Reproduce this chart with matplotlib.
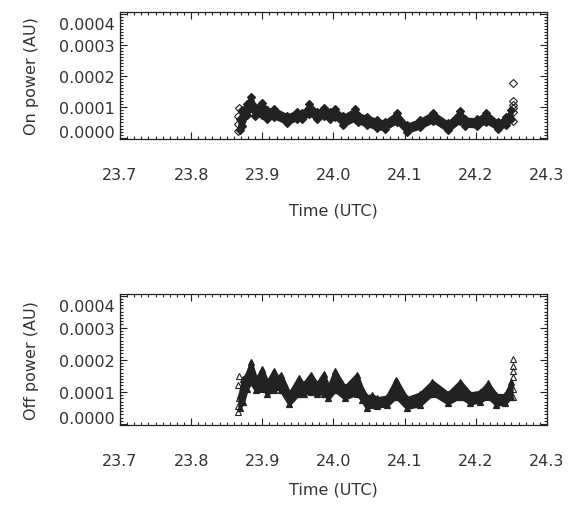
import numpy as np
import matplotlib
matplotlib.use("Agg")
import matplotlib.pyplot as plt
from matplotlib.ticker import MultipleLocator
from matplotlib.transforms import ScaledTranslation

# On power (units of 1e-4 AU): the points form a dense band, read as upper / lower edge
on_time = [23.868, 23.872, 23.878, 23.884, 23.890, 23.900, 23.907, 23.916, 23.935,
           23.949, 23.956, 23.966, 23.977, 23.986, 23.995, 24.002, 24.014, 24.030,
           24.035, 24.047, 24.061, 24.072, 24.089, 24.103, 24.122, 24.140, 24.161,
           24.178, 24.185, 24.201, 24.215, 24.231, 24.243, 24.250]
on_upper = [0.60, 0.90, 1.10, 1.32, 1.00, 1.13, 0.90, 0.94, 0.72,
            0.85, 0.80, 1.08, 0.85, 0.97, 0.85, 0.92, 0.70, 0.92,
            0.75, 0.68, 0.58, 0.52, 0.80, 0.42, 0.58, 0.81, 0.48,
            0.86, 0.62, 0.60, 0.81, 0.50, 0.68, 0.90]
on_lower = [0.25, 0.40, 0.75, 0.95, 0.70, 0.75, 0.62, 0.68, 0.48,
            0.62, 0.60, 0.78, 0.60, 0.70, 0.62, 0.68, 0.42, 0.60,
            0.50, 0.42, 0.32, 0.30, 0.52, 0.20, 0.35, 0.55, 0.25,
            0.55, 0.40, 0.38, 0.52, 0.30, 0.42, 0.60]
# scattered points at the ends of the run
on_edge_time = [23.866, 23.866, 23.867, 23.866, 24.252, 24.252, 24.252, 24.252, 24.252, 24.252]
on_edge_val = [0.23, 0.45, 0.95, 0.70, 1.76, 1.18, 1.05, 0.95, 0.85, 0.55]

# Off power (units of 1e-4 AU)
off_time = [23.868, 23.873, 23.878, 23.884, 23.891, 23.900, 23.907, 23.916, 23.921,
            23.926, 23.938, 23.951, 23.958, 23.968, 23.977, 23.986, 23.993, 24.002,
            24.016, 24.033, 24.040, 24.047, 24.054, 24.061, 24.075, 24.088, 24.103,
            24.122, 24.139, 24.161, 24.178, 24.192, 24.206, 24.217, 24.229, 24.241,
            24.250]
off_upper = [0.90, 1.40, 1.55, 1.92, 1.40, 1.70, 1.30, 1.65, 1.45,
             1.54, 0.95, 1.43, 1.25, 1.54, 1.25, 1.56, 1.15, 1.65,
             1.15, 1.54, 1.10, 0.85, 0.90, 0.80, 0.85, 1.38, 0.80,
             0.95, 1.32, 0.95, 1.32, 0.95, 1.00, 1.27, 0.90, 0.90,
             1.30]
off_lower = [0.50, 0.70, 1.10, 1.30, 1.05, 1.10, 0.95, 1.05, 1.15,
             1.05, 0.62, 0.95, 0.95, 1.00, 0.95, 0.95, 0.80, 1.05,
             0.80, 0.95, 0.75, 0.50, 0.60, 0.55, 0.58, 0.85, 0.50,
             0.60, 0.95, 0.65, 0.85, 0.65, 0.70, 0.85, 0.60, 0.65,
             0.85]
off_edge_time = [23.866, 23.866, 23.867, 23.866, 23.867, 24.252, 24.252, 24.252, 24.252, 24.252, 24.252]
off_edge_val = [0.36, 0.55, 0.80, 1.20, 1.49, 2.03, 1.80, 1.65, 1.45, 1.10, 0.84]

xticks = [23.7, 23.8, 23.9, 24.0, 24.1, 24.2, 24.3]
yticks = [0.0, 0.0001, 0.0002, 0.0003, 0.0004]
ytick_labels = ["0.0000", "0.0001", "0.0002", "0.0003", "0.0004"]

ink = "#222222"
txt = "#333333"
plt.rcParams["font.family"] = "DejaVu Sans"

fig = plt.figure(figsize=(5.76, 5.10), dpi=100)
ax1 = fig.add_axes([0.2083, 0.7255, 0.7413, 0.249])
ax2 = fig.add_axes([0.2083, 0.1647, 0.7413, 0.257])


def style(ax, ylabel, xlab_y):
    ax.set_xlim(23.7, 24.3)
    ax.set_ylim(-0.000003, 0.000405)
    ax.set_xticks(xticks)
    ax.set_xticklabels([f"{v:.1f}" for v in xticks])
    ax.set_yticks(yticks)
    ax.set_yticklabels(ytick_labels)
    ax.xaxis.set_minor_locator(MultipleLocator(0.01))
    ax.yaxis.set_minor_locator(MultipleLocator(0.00001))
    ax.tick_params(which="both", direction="in", top=True, right=True,
                   color=ink, width=0.8, labelcolor=txt, labelsize=11.5)
    ax.tick_params(which="major", length=5)
    ax.tick_params(which="minor", length=2.5)
    ax.tick_params(axis="x", pad=20)
    ax.tick_params(axis="y", pad=4)
    for s in ax.spines.values():
        s.set_color(ink)
        s.set_linewidth(0.9)
    ax.set_ylabel(ylabel, fontsize=11.5, color=txt)
    ax.yaxis.set_label_coords(-0.19, 0.5)
    ax.set_xlabel("Time (UTC)", fontsize=11.5, color=txt)
    ax.xaxis.set_label_coords(0.5, xlab_y)
    labs = ax.get_yticklabels()
    labs[0].set_transform(labs[0].get_transform() + ScaledTranslation(0, 5 / 72, fig.dpi_scale_trans))
    labs[-1].set_transform(labs[-1].get_transform() + ScaledTranslation(0, -7 / 72, fig.dpi_scale_trans))


def band(ax, t, lo, hi, edge_t, edge_v, marker, ms):
    t = np.array(t)
    lo = np.array(lo) * 1e-4
    hi = np.array(hi) * 1e-4
    ax.fill_between(t, lo, hi, color=ink, lw=2.5, edgecolor=ink, joinstyle="round")
    for y in (lo, hi):
        ax.plot(t, y, linestyle="none", marker=marker, ms=ms, mfc=ink, mec=ink, mew=0.9)
    ax.plot(edge_t, np.array(edge_v) * 1e-4, linestyle="none",
            marker=marker, ms=ms, mfc="none", mec=ink, mew=0.8)


band(ax1, on_time, on_lower, on_upper, on_edge_time, on_edge_val, "D", 4)
style(ax1, "On power (AU)", -0.5)

band(ax2, off_time, off_lower, off_upper, off_edge_time, off_edge_val, "^", 5)
style(ax2, "Off power (AU)", -0.43)

fig.savefig("out.png", dpi=100)
